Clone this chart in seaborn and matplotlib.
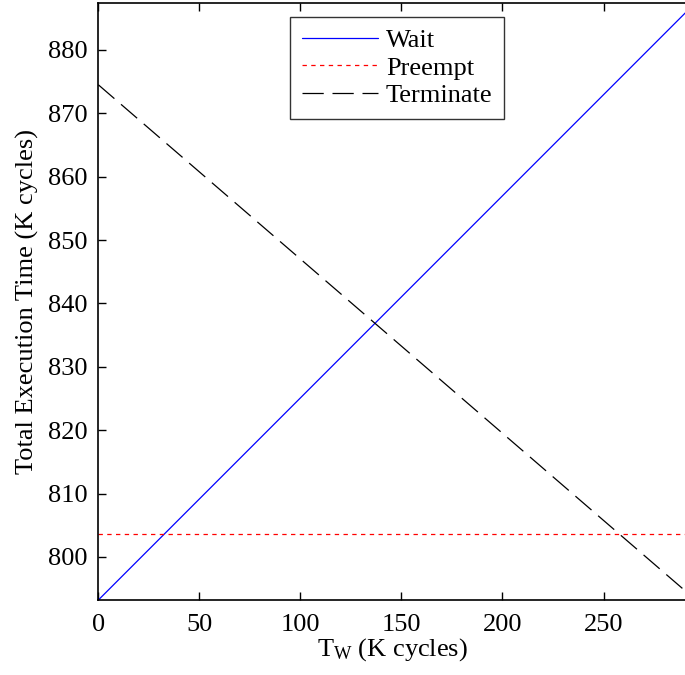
import matplotlib
matplotlib.use("Agg")
import matplotlib.pyplot as plt
import pandas as pd
import seaborn as sns

# values (straight lines, endpoints only)
tw = [0, 291]
wait = [793.2, 886.0]
preempt = [803.6, 803.6]
terminate = [874.5, 794.5]

x_ticks = [0, 50, 100, 150, 200, 250]
y_ticks = [800, 810, 820, 830, 840, 850, 860, 870, 880]

sns.set_theme(style="white")
plt.rcParams["font.family"] = ["Liberation Serif", "DejaVu Serif"]
plt.rcParams["mathtext.fontset"] = "custom"
plt.rcParams["mathtext.rm"] = "Liberation Serif"
plt.rcParams["mathtext.it"] = "Liberation Serif:italic"
plt.rcParams["text.color"] = "black"
plt.rcParams["axes.labelcolor"] = "black"

df = pd.DataFrame({"tw": tw, "Wait": wait, "Preempt": preempt, "Terminate": terminate})

fig = plt.figure(figsize=(6.85, 6.75), dpi=100)
ax = fig.add_axes([0.1435, 0.111, 0.8585, 0.8846])

sns.lineplot(data=df, x="tw", y="Wait", ax=ax, color="#0000ff", lw=0.9, label="Wait")
sns.lineplot(data=df, x="tw", y="Preempt", ax=ax, color="#ff0000", lw=0.9,
             linestyle=(0, (3.5, 3.5)), label="Preempt")
sns.lineplot(data=df, x="tw", y="Terminate", ax=ax, color="black", lw=0.9,
             linestyle=(0, (17, 7)), label="Terminate")

ax.set_xlim(0, 291)
ax.set_ylim(793.2, 887.4)
ax.set_xticks(x_ticks)
ax.set_yticks(y_ticks)
ax.tick_params(direction="in", length=6, width=1, labelsize=19, colors="black",
               top=True, right=False, bottom=True, left=True, pad=8)
ax.tick_params(axis="x", pad=10)
for s in ax.spines.values():
    s.set_color("black")
    s.set_linewidth(1.2)
ax.spines["right"].set_visible(False)

ax.set_xlabel(r"$\mathregular{T_W}$ (K cycles)", fontsize=19, labelpad=0)
ax.set_ylabel("Total Execution Time (K cycles)", fontsize=19, labelpad=6)

leg = ax.legend(loc="upper center", bbox_to_anchor=(0.508, 0.99), fontsize=19,
                frameon=True, fancybox=False, edgecolor="black", handlelength=2.9,
                handletextpad=0.3, borderpad=0.45, labelspacing=0.15, borderaxespad=0.3)
leg.get_frame().set_linewidth(1.0)

fig.savefig("out.png", dpi=100)
